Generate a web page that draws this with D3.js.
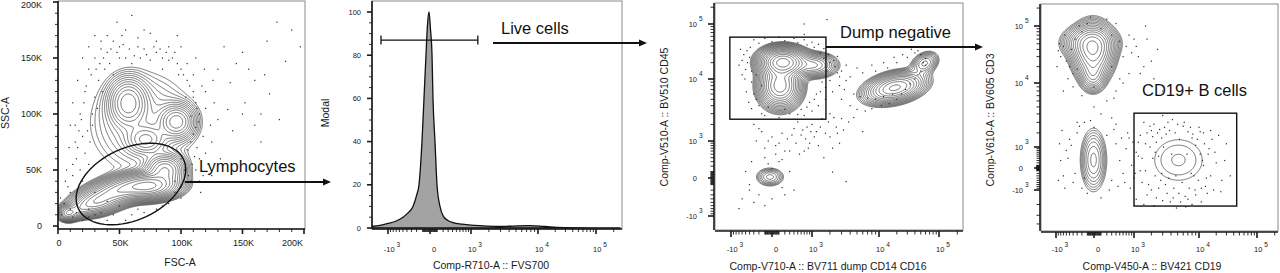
<!DOCTYPE html>
<html><head><meta charset="utf-8">
<script src="https://cdn.jsdelivr.net/npm/d3@7"></script>
<style>
html,body{margin:0;padding:0;background:#fff;}
svg{display:block;font-family:"Liberation Sans",Arial,Helvetica,sans-serif;}
</style></head><body>
<svg id="chart" width="1280" height="273"></svg>
<script>
// ---------------- DATA ----------------
const linTicks = [0, 50000, 100000, 150000, 200000];
const linTickLabels = ["0", "50K", "100K", "150K", "200K"];
const linMinor = d3.range(10000, 200000, 10000).filter(v => v % 50000 !== 0);
const logTicks = [-1000, 0, 1000, 10000, 100000];
const logTickBase = ["-10", "0", "10", "10", "10"];
const logTickSup = ["3", "", "3", "4", "5"];
const logMinor = [].concat(
  d3.range(-9000, -1000, 1000), d3.range(-900, 0, 100), d3.range(-90, 0, 10),
  d3.range(10, 100, 10), d3.range(100, 1000, 100), d3.range(2000, 10000, 1000),
  d3.range(20000, 100000, 10000), [200000]);
const modalTicks = [0, 20, 40, 60, 80, 100];
const modalMinor = d3.range(5, 100, 5).filter(v => v % 20 !== 0);

// Panel 2 histogram (Comp-R710-A :: FVS700, % of mode)
const fvsValues = [-1862, -1370, -1040, -739, -499, -375, -268, -201, -158, -110, -80, -52, -32, -12, 6, 26, 39, 67, 97, 145, 216, 295, 413, 667, 1000, 1618, 2710, 3820, 5390, 7600, 10800, 16100, 29200, 100000, 262000];
const fvsModal  = [0.8, 1.2, 2, 3, 5, 7, 10, 15, 20, 40, 60, 80, 94, 100, 92, 80, 60, 40, 20, 10, 5, 3.5, 2.5, 1.8, 1.3, 1.0, 0.7, 0.8, 1.0, 1.1, 0.9, 0.5, 0.2, 0.1, 0];
const liveGate = [-1320, 1320];
const liveGateLevel = 87;

// Panel 1 populations (FSC-A, SSC-A): 1-sigma ranges, correlation, weight
const p1Groups = [
  {rings: 17, floor: 0.011, parts: [
    {x: [63000, 86000], y: [30000, 41000], r: 0.1, w: 1},
    {x: [36000, 65000], y: [25000, 39000], r: 0.5, w: 0.7},
    {x: [20000, 40000], y: [15000, 26000], r: 0.3, w: 0.45},
    {x: [79000, 95000], y: [43000, 57000], r: 0, w: 0.45},
    {x: [49000, 65000], y: [99000, 121000], r: 0, w: 0.3},
    {x: [89000, 104000], y: [85000, 101000], r: 0, w: 0.3},
    {x: [63000, 80000], y: [70000, 84000], r: 0, w: 0.18},
    {x: [44000, 92000], y: [66000, 118000], r: 0, w: 0.06},
    {x: [4000, 12000], y: [8000, 15000], r: 0, w: 0.3},
    {x: [10000, 22000], y: [10000, 18000], r: 0.2, w: 0.15}
  ]}
];
const lymphGate = {c: [59300, 37500], u: [42800, 21900], v: [12400, -29100]};
const p1Dots = [[20,80],[18,100],[22,120],[25,140],[30,150],[35,158],[40,155],[45,165],[50,160],[55,150],[65,160],[70,158],[80,155],[85,150],[90,148],[100,140],[105,130],[110,120],[112,110],[115,100],[112,88],[108,75],[105,68],[15,60],[12,45],[10,30],[20,40],[25,55],[28,100],[30,115],[33,130],[95,155],[75,148],[60,145],[42,145],[38,140],[100,60],[103,50],[95,30],[90,20],[80,15],[70,12],[60,10],[45,10],[35,12],[25,15],[15,20],[5,20],[3,10],[12,8],[20,5],[40,5],[8,35],[16,70],[14,90],[24,85],[118,80],[120,105],[117,125],[90,160],[65,168],[52,170],[60,188],[48,182],[30,170],[75,172],[97,170],[150,100],[152,110],[160,90],[172,118],[185,147],[197,160],[178,182],[140,128],[150,155],[160,130],[138,104],[165,75],[120,65],[115,40],[130,95],[120,120],[110,135],[22,65],[26,75],[18,50],[28,90],[32,105],[36,120],[104,115],[108,98],[110,82],[98,135],[85,140],[45,135],[50,150],[105,145],[115,60],[108,40],[100,25],[116,30],
  [12,55],[14,75],[17,85],[19,95],[21,110],[23,125],[27,135],[31,140],[34,145],[37,150],[43,158],[48,155],[53,162],[58,158],[62,152],[67,150],[72,153],[78,160],[83,158],[88,155],[93,150],[97,145],[102,135],[107,125],[110,115],[113,105],[114,93],[113,70],[111,62],[109,55],[106,45],[112,50],[118,45],[122,55],[125,75],[124,90],[127,110],[126,130],[119,140],[112,150],[100,160],[80,165],[70,175],[55,175],[40,170],[35,165],[25,160],[20,150],[16,130],[12,110],[10,90],[9,70],[7,50],[6,40],[30,30],[40,22],[50,18],[65,15],[85,18],[95,40],[100,35],[10,15],[15,12],[25,8],[30,10],[55,5],[2,25],[130,140],[135,160],[145,145],[142,85],[125,45],[132,60],[190,175],[170,165],[155,140],[165,100],[180,95],[168,135]].map(d => [d[0] * 1000, d[1] * 1000]);

// Panel 3 populations (BV711 dump, BV510 CD45)
const p3Groups = [
  {rings: 18, floor: 0.012, parts: [
    {x: [0, 400], y: [15200, 27300], r: 0, w: 1},
    {x: [-25, 308], y: [5520, 11800], r: 0, w: 0.5},
    {x: [659, 1675], y: [14000, 23100], r: 0, w: 0.2},
    {x: [10400, 32800], y: [5720, 9640], r: 0.35, w: 0.35},
    {x: [44700, 76000], y: [15200, 25000], r: 0.3, w: 0.1}
  ]},
  {rings: 7, floor: 0.08, parts: [
    {x: [-113, 54], y: [-42, 75], r: 0, w: 1}
  ]}
];
const dumpGate = {x: [-1050, 1730], y: [2440, 58000]};
const p3Dots = [[-460,33000],[-400,25000],[-500,15000],[-350,9000],[-300,6000],[-200,4000],[-150,3000],[-450,20000],[-550,28000],[-250,12000],[-600,22000],[-380,38000],[-200,45000],[0,48000],[200,50000],[500,46000],[800,42000],[1100,38000],[1400,30000],[1600,24000],[2000,20000],[2400,17000],[1800,14000],[1500,9000],[1200,6000],[900,4500],[600,3500],[300,3000],[100,2600],[-100,2800],[700,2800],[1000,3300],[1300,4000],[1700,5000],[2200,6500],[2800,8000],[3500,9500],[3000,5000],[4000,4000],[5000,3500],[6500,3300],[8000,3600],[11000,4000],[15000,4300],[20000,5000],[28000,7000],[40000,10000],[50000,14000],[55000,20000],[50000,28000],[40000,30000],[30000,25000],[20000,20000],[14000,16000],[9000,14000],[6000,13000],[4000,11000],[3000,14000],[-300,2000],[-150,1500],[0,1200],[100,900],[-100,700],[50,500],[150,350],[-50,250],[250,1100],[400,1700],[500,2200],[-250,1000],[300,600],[600,1300],[800,1800],[1000,2000],[1200,1500],[1500,2500],[2000,3000],[900,900],[700,600],[1300,800],[2500,1800],[3000,2500],[2000,1200],[1600,400],[2200,700],[-500,100],[-400,-200],[-600,-400],[-300,-500],[-100,-600],[200,-300],[300,100],[-700,-700],[100,300],[700,100000],[1800,120000],[700,65000],[2200,90],[3500,-50],[6000,1500],
  [-650,35000],[-700,18000],[-520,10000],[-480,6500],[-420,4500],[-350,3600],[-300,52000],[-100,55000],[100,58000],[400,55000],[700,52000],[1000,47000],[1300,43000],[1600,36000],[1900,28000],[2300,22000],[2600,13000],[2000,9500],[1700,7500],[1400,6500],[1100,5000],[800,3800],[500,2900],[200,3500],[-50,3800],[-250,5000],[-150,8000],[-350,14000],[-600,12000],[2800,11000],[3300,7000],[4500,6000],[5500,5500],[7000,5200],[9000,5000],[12000,5500],[17000,6000],[24000,6000],[33000,8500],[45000,12000],[60000,18000],[60000,24000],[45000,33000],[35000,35000],[25000,28000],[18000,25000],[12000,20000],[8000,18000],[5000,16000],[3500,18000],[2600,26000],
  [-200,1700],[-50,1000],[50,800],[200,600],[-100,400],[0,150],[150,1400],[350,1300],[450,900],[550,500],[650,1600],[750,1100],[850,700],[950,1500],[1100,1200],[1400,1800],[1700,1400],[1900,2200],[2300,2600],[2600,1400],[2800,900],[3200,1600],[3800,2200],[4500,2600],[-400,-100],[-200,-300],[0,-400],[-350,300],[150,-150],[400,-200]];

// Panel 4 populations (BV421 CD19, BV605 CD3)
const p4Groups = [
  {rings: 15, floor: 0.012, parts: [
    {x: [-158, 116], y: [22400, 60000], r: 0, w: 1},
    {x: [-281, 116], y: [38000, 70000], r: 0, w: 0.45},
    {x: [-105, 69], y: [10000, 19100], r: 0, w: 0.3}
  ]},
  {rings: 8, floor: 0.03, parts: [
    {x: [-81, 62], y: [-146, 941], r: 0, w: 1}
  ]},
  {rings: 3, floor: 0.13, parts: [
    {x: [3450, 7530], y: [-71, 824], r: 0, w: 1}
  ]}
];
const bGate = {x: [1000, 45000], y: [-2130, 4100]};
const p4Dots = [[-900,38000],[-800,30000],[-700,45000],[-600,25000],[-500,20000],[-400,15000],[-350,60000],[-200,80000],[100,90000],[300,70000],[500,55000],[700,45000],[900,35000],[1200,30000],[1500,20000],[2000,25000],[800,15000],[600,10000],[400,8000],[200,6000],[0,5000],[-200,7000],[-400,9000],[100,4000],[300,3500],[-150,3000],[500,12000],[1000,60000],[1600,100000],[2500,40000],[3000,8000],[-100,110000],[-50,140000],[200,130000],[-800,300],[-700,-300],[-600,800],[-500,1500],[-400,-600],[-300,2000],[-200,-900],[0,2500],[200,1800],[300,-500],[400,1200],[500,300],[600,-200],[700,900],[800,1600],[900,100],[1000,-400],[1100,700],[1200,1300],[1300,-100],[1400,400],[-100,-1200],[100,-1500],[-300,3000],[400,2800],[1500,3000],[1700,2000],[1900,1000],[2100,400],[2300,-300],[2600,-900],[2900,1600],[3200,2500],[3600,3000],[4200,3300],[5000,2800],[6000,2600],[7000,2100],[8000,1600],[9000,1100],[10500,600],[12000,100],[13500,-400],[11000,-900],[9000,-1300],[7000,-1600],[5500,-1800],[4300,-1500],[3500,-1200],[2800,-500],[2400,1300],[2000,2200],[1600,-100],[1800,-700],[2200,2800],[15000,900],[17000,1500],[20000,200],[25000,-500],[30000,1200],[12000,2000],[10000,2500],[8500,-300],[14000,-1200],[6500,-2200],[4800,-2300],[3000,3800],[18000,-1000],[16000,2200],[2600,500],[2500,2000],
  [1200,500],[1300,1800],[1400,-600],[1600,1200],[1700,-1300],[1900,2600],[2000,-1000],[2100,1700],[2300,700],[2400,-1500],[2700,2300],[2900,-200],[3100,1000],[3300,-700],[3400,1900],[3700,-400],[3800,2200],[3900,-1800],[4100,600],[4400,-900],[4600,2000],[4700,-300],[5200,-1200],[5300,1500],[5800,-600],[6200,3000],[6400,-1400],[6800,600],[7300,-900],[7600,2500],[7800,-200],[8200,1900],[8800,-1000],[9500,1500],[9800,-500],[10500,2100],[11500,300],[12500,1200],[13000,-800],[14500,600],[16000,-300],[19000,700],[22000,1800],[24000,-1100],[28000,300],[1100,-1600],[1500,-2000],[2200,-2100],[3000,-1700],[8000,-2000],[11000,-1800],[35000,-300],
  [-900,-500],[-850,1200],[-750,2200],[-650,-900],[-550,400],[-450,1100],[-350,-200],[-250,2600],[-150,-400],[-50,3200],[250,-1000],[350,2300],[450,-800],[550,1600],[650,-600],[750,2000],[850,-900],[950,1300],[1050,-200],
  [-950,20000],[-850,50000],[-650,70000],[-550,12000],[-450,40000],[-300,18000],[300,20000],[600,30000],[800,70000],[1100,45000],[1300,15000],[1700,60000],[2200,12000],[-250,100000],[400,110000],[-700,8000],[0,9000],[350,6500]];

// ---------------- DRAWING ----------------
const svg = d3.select("#chart");
const INK = "#1a1a1a";

function frame(g, box, clipId) {
  const [x0, y0, x1, y1] = box;
  g.append("rect").attr("x", x0).attr("y", y0).attr("width", x1 - x0).attr("height", y1 - y0)
    .attr("fill", "none").attr("stroke", "#8a8a8a").attr("stroke-width", 1);
  svg.append("clipPath").attr("id", clipId).append("rect")
    .attr("x", x0).attr("y", y0).attr("width", x1 - x0).attr("height", y1 - y0);
}

function axisX(g, xs, y, x0, x1, majors, minors, maj, min) {
  g.append("line").attr("x1", x0).attr("x2", x1).attr("y1", y).attr("y2", y).attr("stroke", INK).attr("stroke-width", 1.6);
  g.append("g").selectAll("line").data(minors.filter(v => xs(v) >= x0 && xs(v) <= x1)).join("line")
    .attr("x1", d => xs(d)).attr("x2", d => xs(d)).attr("y1", y).attr("y2", y + min)
    .attr("stroke", INK).attr("stroke-width", 0.9);
  g.append("g").selectAll("line").data(majors).join("line")
    .attr("x1", d => xs(d)).attr("x2", d => xs(d)).attr("y1", y).attr("y2", y + maj)
    .attr("stroke", INK).attr("stroke-width", 1.6);
}
function axisY(g, ys, x, y0, y1, majors, minors, maj, min) {
  g.append("line").attr("x1", x).attr("x2", x).attr("y1", y0).attr("y2", y1).attr("stroke", INK).attr("stroke-width", 1.6);
  g.append("g").selectAll("line").data(minors.filter(v => ys(v) >= y0 && ys(v) <= y1)).join("line")
    .attr("y1", d => ys(d)).attr("y2", d => ys(d)).attr("x1", x).attr("x2", x - min)
    .attr("stroke", INK).attr("stroke-width", 0.9);
  g.append("g").selectAll("line").data(majors).join("line")
    .attr("y1", d => ys(d)).attr("y2", d => ys(d)).attr("x1", x).attr("x2", x - maj)
    .attr("stroke", INK).attr("stroke-width", 1.6);
}
function logLabelsX(g, xs, y) {
  logTicks.forEach((v, i) => {
    const t = g.append("text").attr("x", xs(v) + 4).attr("y", y).attr("text-anchor", "middle")
      .attr("font-size", 7.5).attr("fill", INK);
    t.append("tspan").text(logTickBase[i]);
    if (logTickSup[i]) t.append("tspan").attr("dx", 2).attr("dy", -5).attr("font-size", 6.5).text(logTickSup[i]);
  });
}
function logLabelsY(g, ys, xEnd) {
  logTicks.forEach((v, i) => {
    g.append("text").attr("x", xEnd).attr("y", ys(v)).attr("dy", "0.35em").attr("text-anchor", "end")
      .attr("font-size", 7.5).attr("fill", INK).text(logTickBase[i]);
    if (logTickSup[i]) g.append("text").attr("x", xEnd + 2).attr("y", ys(v) - 3).attr("text-anchor", "start")
      .attr("font-size", 6.5).attr("fill", INK).text(logTickSup[i]);
  });
}
function titleX(g, text, cx, y) {
  g.append("text").attr("x", cx).attr("y", y).attr("text-anchor", "middle").attr("font-size", 10.5).attr("fill", INK).text(text);
}
function titleY(g, text, x, cy) {
  g.append("text").attr("transform", `translate(${x},${cy}) rotate(-90)`).attr("text-anchor", "middle")
    .attr("font-size", 10.5).attr("fill", INK).text(text);
}
function densityContours(g, groups, xs, ys, box) {
  const [x0, y0, x1, y1] = box;
  const nx = Math.ceil(x1 - x0), ny = Math.ceil(y1 - y0);
  const path = d3.geoPath(d3.geoIdentity().translate([x0, y0]));
  groups.forEach(gr => {
    const comps = gr.parts.map(p => {
      const ax = xs(p.x[0]), bx = xs(p.x[1]), ay = ys(p.y[0]), by = ys(p.y[1]);
      const sgn = Math.sign((bx - ax) * (by - ay));
      return {mx: (ax + bx) / 2, my: (ay + by) / 2, sx: Math.abs(bx - ax) / 2, sy: Math.abs(by - ay) / 2, r: p.r * sgn, w: p.w};
    });
    const vals = new Float64Array(nx * ny);
    let mx = 0;
    for (let j = 0; j < ny; j++) for (let i = 0; i < nx; i++) {
      const px = x0 + i + 0.5, py = y0 + j + 0.5;
      let s = 0;
      for (const c of comps) {
        const dx = (px - c.mx) / c.sx, dy = (py - c.my) / c.sy;
        s += c.w * Math.exp(-0.5 * (dx * dx - 2 * c.r * dx * dy + dy * dy) / (1 - c.r * c.r));
      }
      vals[j * nx + i] = s; if (s > mx) mx = s;
    }
    const q = Math.pow(gr.floor / 0.85, 1 / (gr.rings - 1));
    const th = d3.range(gr.rings).map(i => mx * 0.85 * Math.pow(q, i)).reverse();
    const cs = d3.contours().size([nx, ny]).thresholds(th)(vals);
    g.append("g").selectAll("path").data(cs).join("path").attr("d", path)
      .attr("fill", "none").attr("stroke", "#2b2b2b").attr("stroke-width", 0.65);
  });
}
function dots(g, data, xs, ys) {
  g.append("g").selectAll("rect").data(data).join("rect")
    .attr("x", d => xs(d[0]) - 0.6).attr("y", d => ys(d[1]) - 0.6)
    .attr("width", 1.2).attr("height", 1.2).attr("fill", "#2a2a2a");
}
function arrow(g, x1, x2, y) {
  g.append("line").attr("x1", x1).attr("x2", x2 - 6).attr("y1", y).attr("y2", y).attr("stroke", "#111").attr("stroke-width", 2);
  g.append("path").attr("d", `M${x2},${y}L${x2 - 8},${y - 3.5}L${x2 - 8},${y + 3.5}Z`).attr("fill", "#111");
}
function gateLabel(g, text, x, y) {
  g.append("text").attr("x", x).attr("y", y).attr("font-size", 16.5).attr("fill", "#111").text(text);
}

// ---------- Panel 1: FSC-A vs SSC-A ----------
{
  const box = [58, 1, 305, 229];
  const xs = d3.scaleLinear().domain([0, 200000]).range([58, 304]);
  const ys = d3.scaleLinear().domain([0, 200000]).range([226, 2]);
  const g = svg.append("g");
  frame(g, box, "clip1");
  const plot = g.append("g").attr("clip-path", "url(#clip1)");
  densityContours(plot, p1Groups, xs, ys, box);
  dots(plot, p1Dots, xs, ys);
  const pts = d3.range(0, 73).map(k => {
    const a = k / 72 * 2 * Math.PI;
    return [lymphGate.c[0] + lymphGate.u[0] * Math.cos(a) + lymphGate.v[0] * Math.sin(a),
            lymphGate.c[1] + lymphGate.u[1] * Math.cos(a) + lymphGate.v[1] * Math.sin(a)];
  });
  g.append("path").attr("d", d3.line().x(d => xs(d[0])).y(d => ys(d[1]))(pts))
    .attr("fill", "none").attr("stroke", "#111").attr("stroke-width", 1.4);
  axisX(g, xs, 229, 58, 305, linTicks, linMinor, 5, 3);
  axisY(g, ys, 58, 1, 229, linTicks, linMinor, 5, 3);
  linTicks.forEach((v, i) => {
    g.append("text").attr("x", i === 4 ? xs(v) - 1 : xs(v) + 1).attr("y", 246)
      .attr("text-anchor", i === 4 ? "end" : "middle").attr("font-size", 9).attr("fill", INK).text(linTickLabels[i]);
    g.append("text").attr("x", 42).attr("y", Math.max(ys(v), 4.5)).attr("dy", "0.35em").attr("text-anchor", "end")
      .attr("font-size", 9).attr("fill", INK).text(linTickLabels[i]);
  });
  titleX(g, "FSC-A", 180, 266);
  titleY(g, "SSC-A", 9, 113);
  gateLabel(g, "Lymphocytes", 199, 172);
  arrow(g, 185, 331, 182);
}

// ---------- Panel 2: histogram ----------
{
  const box = [372, 1, 622, 229];
  const xs = d3.scaleSymlog().constant(420).domain(logTicks).range([388, 430, 471, 538, 596]);
  const ys = d3.scaleLinear().domain([0, 100]).range([228, 12]);
  const g = svg.append("g");
  frame(g, box, "clip2");
  const plot = g.append("g").attr("clip-path", "url(#clip2)");
  const hist = fvsValues.map((v, i) => [v, fvsModal[i]]);
  plot.append("path").attr("d", d3.area().x(d => xs(d[0])).y0(ys(0)).y1(d => ys(d[1])).curve(d3.curveMonotoneX)(hist))
    .attr("fill", "#a3a3a3").attr("stroke", "#111").attr("stroke-width", 1.3);
  axisX(g, xs, 229, 372, 622, logTicks, logMinor, 5, 3);
  axisY(g, ys, 372, 1, 229, modalTicks, modalMinor, 5, 3);
  modalTicks.forEach(v => g.append("text").attr("x", 361).attr("y", ys(v)).attr("dy", "0.35em")
    .attr("text-anchor", "end").attr("font-size", 7.5).attr("fill", INK).text(v));
  logLabelsX(g, xs, 252);
  titleX(g, "Comp-R710-A :: FVS700", 491, 269);
  titleY(g, "Modal", 329, 113);
  const gy = ys(liveGateLevel);
  g.append("line").attr("x1", xs(liveGate[0])).attr("x2", xs(liveGate[1])).attr("y1", gy).attr("y2", gy).attr("stroke", "#111").attr("stroke-width", 1.3);
  liveGate.forEach(v => g.append("line").attr("x1", xs(v)).attr("x2", xs(v)).attr("y1", gy - 4.5).attr("y2", gy + 4.5).attr("stroke", "#111").attr("stroke-width", 1.3));
  gateLabel(g, "Live cells", 501, 34);
  arrow(g, 493, 647, 43);
}

// ---------- Panel 3: dump vs CD45 ----------
{
  const box = [715, 3, 963, 230];
  const xs = d3.scaleSymlog().constant(420).domain(logTicks).range([731, 772, 812, 879, 939]);
  const ys = d3.scaleSymlog().constant(420).domain(logTicks).range([216, 178, 141, 79, 24]);
  const g = svg.append("g");
  frame(g, box, "clip3");
  const plot = g.append("g").attr("clip-path", "url(#clip3)");
  densityContours(plot, p3Groups, xs, ys, box);
  dots(plot, p3Dots, xs, ys);
  g.append("rect").attr("x", xs(dumpGate.x[0])).attr("y", ys(dumpGate.y[1]))
    .attr("width", xs(dumpGate.x[1]) - xs(dumpGate.x[0])).attr("height", ys(dumpGate.y[0]) - ys(dumpGate.y[1]))
    .attr("fill", "none").attr("stroke", "#111").attr("stroke-width", 1.4);
  axisX(g, xs, 231, 715, 963, logTicks, logMinor, 6, 3.5);
  axisY(g, ys, 714, 3, 230, logTicks, logMinor, 6, 3.5);
  logLabelsX(g, xs, 252);
  logLabelsY(g, ys, 697);
  titleX(g, "Comp-V710-A :: BV711 dump CD14 CD16", 828, 270);
  titleY(g, "Comp-V510-A :: BV510 CD45", 668, 117);
  gateLabel(g, "Dump negative", 840, 38);
  arrow(g, xs(dumpGate.x[1]), 983, 47);
}

// ---------- Panel 4: CD19 vs CD3 ----------
{
  const box = [1041, 4, 1278, 231];
  const xs = d3.scaleSymlog().constant(420).domain(logTicks).range([1056, 1094, 1134, 1199, 1257]);
  const ys = d3.scaleSymlog().constant(1500).domain(logTicks).range([190, 168, 147, 83, 26]);
  const g = svg.append("g");
  frame(g, box, "clip4");
  const plot = g.append("g").attr("clip-path", "url(#clip4)");
  densityContours(plot, p4Groups, xs, ys, box);
  dots(plot, p4Dots, xs, ys);
  g.append("rect").attr("x", xs(bGate.x[0])).attr("y", ys(bGate.y[1]))
    .attr("width", xs(bGate.x[1]) - xs(bGate.x[0])).attr("height", ys(bGate.y[0]) - ys(bGate.y[1]))
    .attr("fill", "none").attr("stroke", "#111").attr("stroke-width", 1.4);
  axisX(g, xs, 232, 1041, 1278, logTicks, logMinor, 6, 3.5);
  axisY(g, ys, 1040, 4, 231, logTicks, logMinor, 6, 3.5);
  logLabelsX(g, xs, 252);
  logLabelsY(g, ys, 1023);
  titleX(g, "Comp-V450-A :: BV421 CD19", 1152, 270);
  titleY(g, "Comp-V610-A :: BV605 CD3", 994, 120);
  gateLabel(g, "CD19+ B cells", 1142, 96);
}
</script>
</body></html>
